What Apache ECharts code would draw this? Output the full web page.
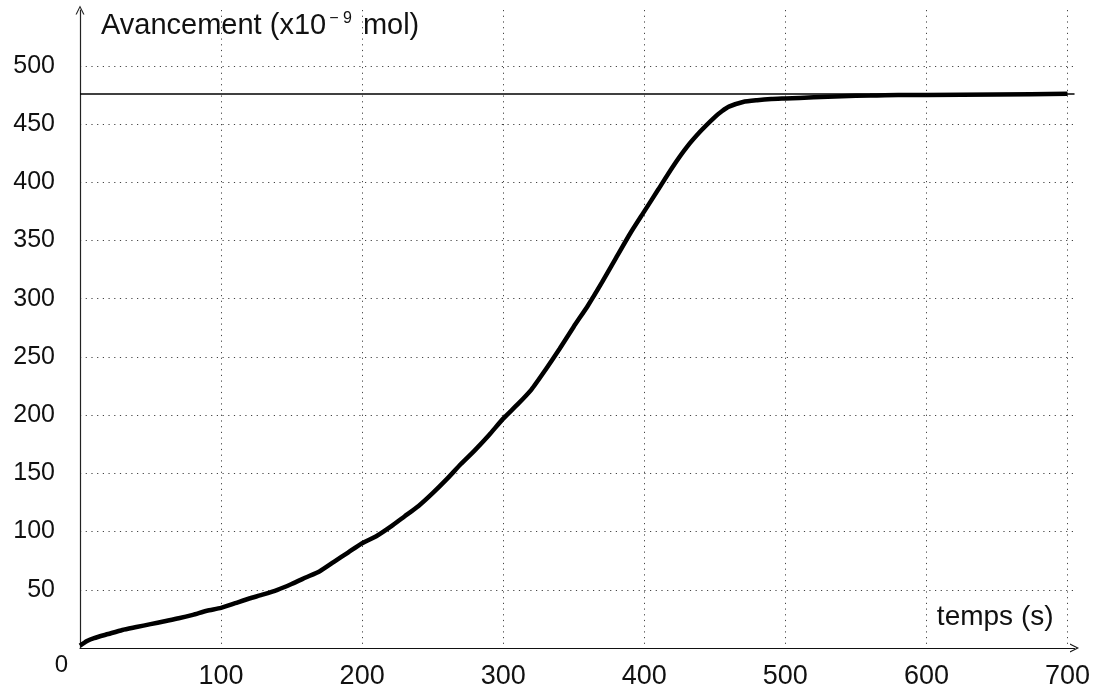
<!DOCTYPE html>
<html>
<head>
<meta charset="utf-8">
<script src="https://cdn.jsdelivr.net/npm/echarts@6/dist/echarts.min.js"></script>
<style>
  html, body { margin: 0; padding: 0; background: #fff; }
  #chart { width: 1093px; height: 691px; }
</style>
</head>
<body>
<div id="chart"></div>
<script>
  // temps (s)
  const times = [0, 5, 10, 20, 30, 40, 50, 60, 70, 80, 90, 100, 110, 120, 130, 140, 150, 160, 170, 180,
    190, 200, 210, 220, 230, 240, 250, 260, 270, 280, 290, 300, 310, 320, 330, 340, 350, 360, 370, 380,
    390, 400, 410, 420, 430, 440, 450, 455, 460, 470, 480, 490, 500, 520, 540, 560, 580, 600, 650, 700];
  // avancement (x10^-9 mol)
  const avancement = [2, 6, 8.5, 12, 15.5, 18, 20.5, 23, 25.5, 28.5, 32, 34.5, 38.5, 42.5, 46, 50, 55, 60.5, 66, 74,
    82, 90, 96, 104, 113, 122, 133, 145, 158, 170, 183, 197, 209, 222, 239, 257, 276, 294, 314, 335,
    356, 375, 394, 413, 430, 444, 456, 461, 465, 469, 470.5, 471.5, 472, 473, 474, 474.5, 475, 475, 475.5, 476];
  // avancement maximal
  const xMax = 476;

  const font = 'Liberation Sans, Arial, sans-serif';
  const chevron = 'path://M0,10 L5,0 L10,10 L8.6,10 L5,2.6 L1.4,10 Z';

  let mChart = echarts.init(document.getElementById('chart'));
  let options = {
    animation: false,
    grid: {
      left: 80,
      right: 14,
      top: 10,
      bottom: 43
    },
    xAxis: {
      type: 'value',
      min: 0,
      max: 705,
      interval: 100,
      name: 'temps (s)',
      nameLocation: 'end',
      nameGap: -21,
      nameTextStyle: {
        fontFamily: font,
        fontSize: 28,
        color: '#111',
        align: 'right',
        verticalAlign: 'bottom',
        padding: [0, 0, 17, 0]
      },
      axisLine: {
        onZero: false,
        symbol: ['none', chevron],
        symbolSize: [9, 10],
        lineStyle: { color: '#111', width: 1.2 }
      },
      axisTick: { show: false },
      axisLabel: {
        margin: 15,
        fontFamily: font,
        fontSize: 27,
        color: '#111',
        showMaxLabel: false,
        formatter: function (v) {
          return (v !== 0 && v % 100 === 0) ? String(v) : '';
        }
      },
      splitLine: {
        show: true,
        showMinLine: false,
        showMaxLine: false,
        lineStyle: { color: '#444', width: 1, type: [1.2, 4.5] }
      }
    },
    yAxis: {
      type: 'value',
      min: 0,
      max: 548,
      interval: 50,
      name: 'Avancement (x10{sup|\u2212 9} mol)',
      nameLocation: 'end',
      nameGap: -16,
      nameTextStyle: {
        fontFamily: font,
        fontSize: 29,
        color: '#111',
        align: 'left',
        verticalAlign: 'middle',
        padding: [0, 0, 0, 21],
        rich: {
          sup: { fontFamily: font, fontSize: 16, color: '#111', padding: [0, 3, 14, 3] }
        }
      },
      axisLine: {
        show: true,
        symbol: ['none', chevron],
        symbolSize: [9, 10],
        lineStyle: { color: '#222', width: 1.2 }
      },
      axisTick: { show: false },
      axisLabel: {
        margin: 12,
        fontFamily: font,
        fontSize: 25,
        color: '#111',
        showMaxLabel: false,
        formatter: function (v) {
          if (v === 0) return '{z|0}';
          return v % 50 === 0 ? '{n|' + v + '}' : '';
        },
        rich: {
          n: { fontFamily: font, fontSize: 25, color: '#111', padding: [0, 13, 0, 0] },
          z: { fontFamily: font, fontSize: 24, color: '#111', padding: [34, 0, 0, 0] }
        }
      },
      splitLine: {
        show: true,
        showMinLine: false,
        showMaxLine: false,
        lineStyle: { color: '#444', width: 1, type: [1.2, 4.5] }
      }
    },
    series: [
      {
        type: 'line',
        data: times.map((t, i) => [t, avancement[i]]),
        showSymbol: false,
        smooth: 0.2,
        lineStyle: { color: '#000', width: 4.5 },
        markLine: {
          silent: true,
          symbol: 'none',
          label: { show: false },
          lineStyle: { color: '#000', width: 1.5, type: 'solid' },
          data: [{ yAxis: xMax }]
        },
        z: 3
      }
    ]
  };
  mChart.setOption(options);
</script>
</body>
</html>
